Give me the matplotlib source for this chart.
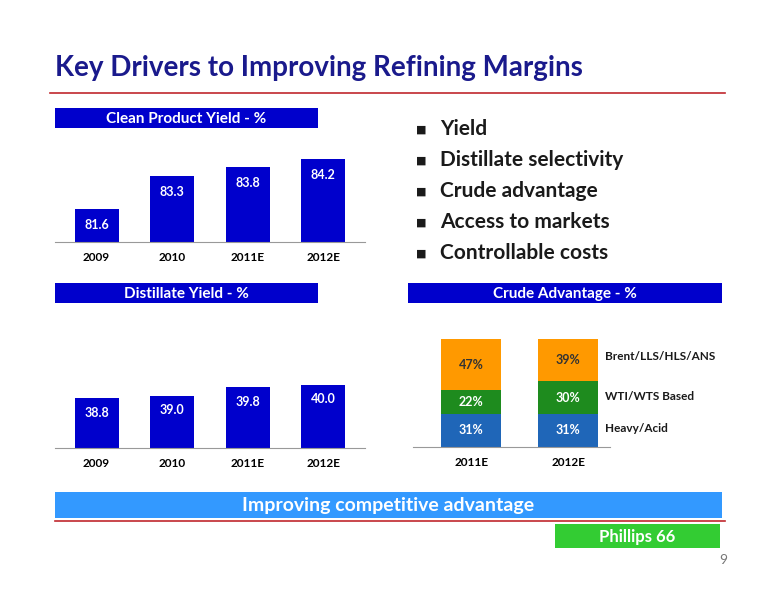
import matplotlib

matplotlib.use("Agg")
import matplotlib.pyplot as plt
from matplotlib.patches import Rectangle

plt.rcParams["font.family"] = ["Lato", "DejaVu Sans"]

W, H = 776, 600

clean_years = ["2009", "2010", "2011E", "2012E"]
clean_yield = [81.6, 83.3, 83.8, 84.2]

dist_years = ["2009", "2010", "2011E", "2012E"]
dist_yield = [38.8, 39.0, 39.8, 40.0]

crude_years = ["2011E", "2012E"]
crude_series = ["Heavy/Acid", "WTI/WTS Based", "Brent/LLS/HLS/ANS"]
heavy = [31, 31]
wti = [22, 30]
brent = [47, 39]

bullets = ["Yield", "Distillate selectivity", "Crude advantage",
           "Access to markets", "Controllable costs"]

BLUE = "#0000CC"
NAVY = "#1A1A8C"
RED = "#C0282D"

fig = plt.figure(figsize=(W / 100, H / 100), dpi=100)
bg = fig.add_axes([0, 0, 1, 1])
bg.set_xlim(0, W)
bg.set_ylim(H, 0)
bg.axis("off")


def px_axes(x0, y0, x1, y1):
    return fig.add_axes([x0 / W, 1 - y1 / H, (x1 - x0) / W, (y1 - y0) / H])


def header(x0, y0, x1, y1, text, color=BLUE, size=11):
    bg.add_patch(Rectangle((x0, y0), x1 - x0, y1 - y0, color=color, lw=0))
    bg.text((x0 + x1) / 2, (y0 + y1) / 2 + 1, text, color="white",
            fontweight="bold", ha="center", va="center", fontsize=size)


# title
bg.text(55, 68, "Key Drivers to Improving Refining Margins", color=NAVY,
        fontsize=20, fontweight="bold", va="center", ha="left")
bg.plot([50, 725], [93, 93], color=RED, lw=1.2)

header(55, 108, 318, 128, "Clean Product Yield - %")
header(55, 283, 318, 303, "Distillate Yield - %")
header(408, 283, 722, 303, "Crude Advantage - %")


def bar_chart(ax, cats, vals, ymin, ymax):
    xs = range(len(cats))
    ax.bar(xs, vals, width=0.58, color=BLUE, bottom=0)
    ax.set_ylim(ymin, ymax)
    ax.set_xlim(-0.55, len(cats) - 0.45)
    for x, v in zip(xs, vals):
        ax.text(x, v - (ymax - ymin) * 0.1, f"{v:.1f}", color="white",
                ha="center", va="top", fontsize=9, fontweight="bold")
    ax.set_xticks(list(xs))
    ax.set_xticklabels(cats, fontsize=8.5, fontweight="bold")
    ax.tick_params(length=0, pad=7)
    ax.set_yticks([])
    for s in ["top", "right", "left"]:
        ax.spines[s].set_visible(False)
    ax.spines["bottom"].set_color("#999999")
    ax.patch.set_alpha(0)


ax1 = px_axes(55, 140, 365, 242)
bar_chart(ax1, clean_years, clean_yield, 79.85, 85.2)

ax2 = px_axes(55, 360, 365, 448)
bar_chart(ax2, dist_years, dist_yield, 34.3, 42.2)

# crude advantage stacked
ax3 = px_axes(413, 333, 610, 447)
xs = range(len(crude_years))
bottom = [0, 0]
for vals, col, tcol in [(heavy, "#1F66B8", "white"), (wti, "#1E8B1E", "white"),
                        (brent, "#FF9900", "#333333")]:
    ax3.bar(xs, vals, bottom=bottom, width=0.62, color=col)
    for x, v, b in zip(xs, vals, bottom):
        ax3.text(x, b + v / 2, f"{v}%", color=tcol, ha="center", va="center",
                 fontsize=9, fontweight="bold")
    bottom = [b + v for b, v in zip(bottom, vals)]
ax3.set_ylim(0, 106)
ax3.set_xlim(-0.6, 1.43)
ax3.set_xticks(list(xs))
ax3.set_xticklabels(crude_years, fontsize=8.5, fontweight="bold")
ax3.tick_params(length=0, pad=7)
ax3.set_yticks([])
for s in ["top", "right", "left"]:
    ax3.spines[s].set_visible(False)
ax3.spines["bottom"].set_color("#999999")
ax3.patch.set_alpha(0)

for label, y in zip(crude_series, [428, 396, 357]):
    bg.text(605, y, label, fontsize=8.5, fontweight="bold", va="center",
            color="#1a1a1a")

# bullets
for i, b in enumerate(bullets):
    y = 129 + i * 31
    bg.text(421, y, "\u25a0", fontsize=8, va="center", ha="center", color="#1a1a1a")
    bg.text(440, y, b, fontsize=15, fontweight="bold", va="center", color="#1a1a1a")

# bottom banner
header(55, 492, 722, 518, "Improving competitive advantage", color="#3399FF", size=14)
bg.plot([55, 725], [521, 521], color=RED, lw=1.2)
header(555, 524, 720, 548, "Phillips 66", color="#33CC33", size=12)
bg.text(723, 560, "9", color="#777777", fontsize=10, ha="center", va="center")

fig.savefig("out.png", dpi=100)
